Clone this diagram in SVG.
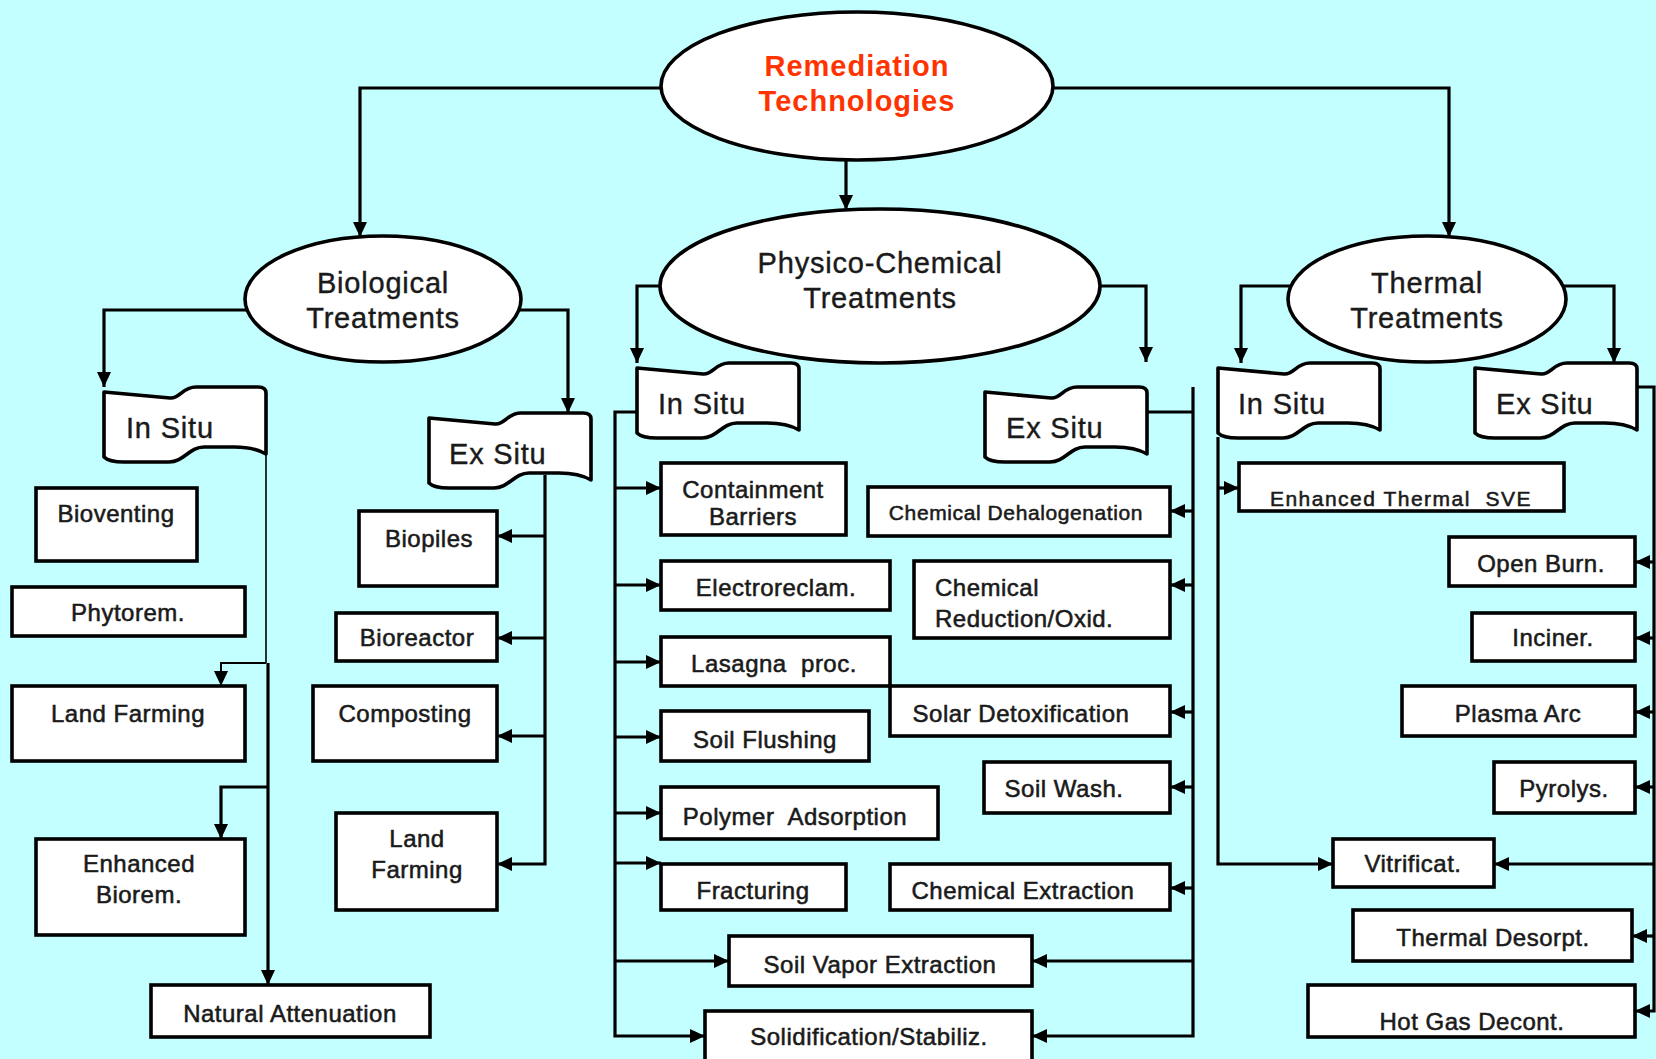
<svg xmlns="http://www.w3.org/2000/svg" xmlns:xlink="http://www.w3.org/1999/xlink" width="1656" height="1059" viewBox="0 0 1656 1059">
<style>
.box{fill:#fff;stroke:#000;stroke-width:3.6}
.ell{fill:#fff;stroke:#000;stroke-width:3.6}
.flag{fill:#fff;stroke:#000;stroke-width:3.6;stroke-linejoin:round}
.t{font-family:"Liberation Sans",Arial,sans-serif;font-size:24px;letter-spacing:0.5px;text-anchor:middle;fill:#1a1a1a;stroke:#1a1a1a;stroke-width:0.55px}
.ts{font-size:21px;letter-spacing:0.6px}
.tw{font-size:21px;letter-spacing:1.5px}
.ls{text-anchor:start}
.big{font-family:"Liberation Sans",Arial,sans-serif;font-size:29px;letter-spacing:0.8px;text-anchor:middle;fill:#1a1a1a;stroke:#1a1a1a;stroke-width:0.4px}
.fl{font-family:"Liberation Sans",Arial,sans-serif;font-size:29px;letter-spacing:0.8px;fill:#1a1a1a;stroke:#1a1a1a;stroke-width:0.4px}
.red{font-weight:bold;fill:#FF3300;stroke:none;letter-spacing:1px}
.c{fill:none;stroke:#000;stroke-width:3.2}
.a{marker-end:url(#arr)}
</style>
<defs>
<marker id="arr" markerUnits="userSpaceOnUse" markerWidth="16" markerHeight="16" refX="15" refY="8" orient="auto">
<path d="M0,1 L15,8 L0,15 Z" fill="#000"/>
</marker>
<path id="flag" d="M0,5 L66,11 C76,12 78,0 92,0 L154,0 Q162,0 162,6 L162,67 Q150,60 130,60 L100,60 C85,60 80,75 65,75 L20,75 Q5,75 0,70 Z"/>
</defs>
<rect width="1656" height="1059" fill="#C4FFFF"/>

<g id="connectors">
<path class="c a" d="M660,88 H360 V237"/>
<path class="c a" d="M1054,88 H1449 V237"/>
<path class="c a" d="M846,160 V210"/>
<path class="c a" d="M246,310 H104 V387"/>
<path class="c a" d="M520,310 H568 V413"/>
<path class="c a" d="M660,286 H637 V363"/>
<path class="c a" d="M1100,286 H1146 V362"/>
<path class="c a" d="M1291,286 H1241 V363"/>
<path class="c a" d="M1563,286 H1614 V363"/>

<path d="M266,450 V663" fill="none" stroke="#000" stroke-width="1.6"/>
<path class="a" d="M266,663 H221 V686" fill="none" stroke="#000" stroke-width="2"/>
<path class="c a" d="M268,663 V985"/>
<path class="c a" d="M268,787 H221 V839"/>

<path class="c a" d="M545,475 V864 H497"/>
<path class="c a" d="M545,536 H497"/>
<path class="c a" d="M545,638 H497"/>
<path class="c a" d="M545,736 H497"/>

<path class="c a" d="M637,412 H615 V1036 H705"/>
<path class="c a" d="M615,488 H661"/>
<path class="c a" d="M615,585 H661"/>
<path class="c a" d="M615,662 H661"/>
<path class="c a" d="M615,737 H661"/>
<path class="c a" d="M615,813 H661"/>
<path class="c a" d="M615,863 H661"/>
<path class="c a" d="M615,961 H729"/>

<path class="c" d="M1147,412 H1193"/>
<path class="c a" d="M1193,387 V1036 H1032"/>
<path class="c a" d="M1193,511 H1170"/>
<path class="c a" d="M1193,585 H1170"/>
<path class="c a" d="M1193,712 H1170"/>
<path class="c a" d="M1193,787 H1170"/>
<path class="c a" d="M1193,888 H1170"/>
<path class="c a" d="M1193,961 H1032"/>

<path class="c a" d="M1218,437 V864 H1333"/>
<path class="c a" d="M1218,488 H1239"/>

<path class="c a" d="M1637,387 H1654 V1011 H1635"/>
<path class="c a" d="M1654,562 H1635"/>
<path class="c a" d="M1654,638 H1635"/>
<path class="c a" d="M1654,712 H1635"/>
<path class="c a" d="M1654,787 H1635"/>
<path class="c a" d="M1654,864 H1494"/>
<path class="c a" d="M1654,936 H1632"/>
</g>

<g id="remediation">
<ellipse class="ell" cx="857" cy="86" rx="196" ry="74"/>
<text class="big red" x="857" y="76">Remediation</text>
<text class="big red" x="857" y="111">Technologies</text>
</g>
<g id="biological">
<ellipse class="ell" cx="383" cy="299" rx="138" ry="63"/>
<text class="big" x="383" y="293">Biological</text>
<text class="big" x="383" y="328">Treatments</text>
</g>
<g id="physico">
<ellipse class="ell" cx="880" cy="286" rx="220" ry="77"/>
<text class="big" x="880" y="273">Physico-Chemical</text>
<text class="big" x="880" y="308">Treatments</text>
</g>
<g id="thermal">
<ellipse class="ell" cx="1427" cy="299" rx="139" ry="63"/>
<text class="big" x="1427" y="293">Thermal</text>
<text class="big" x="1427" y="328">Treatments</text>
</g>

<g id="bio-insitu" transform="translate(104,387)"><use xlink:href="#flag" class="flag"/><text class="fl" x="22" y="51">In Situ</text></g>
<g id="bio-exsitu" transform="translate(429,413)"><use xlink:href="#flag" class="flag"/><text class="fl" x="20" y="51">Ex Situ</text></g>
<g id="phys-insitu" transform="translate(637,363)"><use xlink:href="#flag" class="flag"/><text class="fl" x="21" y="51">In Situ</text></g>
<g id="phys-exsitu" transform="translate(985,387)"><use xlink:href="#flag" class="flag"/><text class="fl" x="21" y="51">Ex Situ</text></g>
<g id="therm-insitu" transform="translate(1218,363)"><use xlink:href="#flag" class="flag"/><text class="fl" x="20" y="51">In Situ</text></g>
<g id="therm-exsitu" transform="translate(1475,363)"><use xlink:href="#flag" class="flag"/><text class="fl" x="21" y="51">Ex Situ</text></g>

<g id="bioventing"><rect class="box" x="36" y="488" width="161" height="73"/><text class="t" x="116" y="522">Bioventing</text></g>
<g id="phytorem"><rect class="box" x="12" y="587" width="233" height="49"/><text class="t" x="128" y="621">Phytorem.</text></g>
<g id="landfarming-in"><rect class="box" x="12" y="686" width="233" height="75"/><text class="t" x="128" y="722">Land Farming</text></g>
<g id="enhanced-biorem"><rect class="box" x="36" y="839" width="209" height="96"/><text class="t" x="139" y="872">Enhanced</text><text class="t" x="139" y="903">Biorem.</text></g>
<g id="natural-attenuation"><rect class="box" x="151" y="985" width="279" height="52"/><text class="t" x="290" y="1022">Natural Attenuation</text></g>

<g id="biopiles"><rect class="box" x="359" y="511" width="138" height="75"/><text class="t" x="429" y="547">Biopiles</text></g>
<g id="bioreactor"><rect class="box" x="336" y="613" width="161" height="48"/><text class="t" x="417" y="646">Bioreactor</text></g>
<g id="composting"><rect class="box" x="313" y="686" width="184" height="75"/><text class="t" x="405" y="722">Composting</text></g>
<g id="landfarming-ex"><rect class="box" x="336" y="813" width="161" height="97"/><text class="t" x="417" y="847">Land</text><text class="t" x="417" y="878">Farming</text></g>

<g id="containment"><rect class="box" x="661" y="463" width="185" height="72"/><text class="t" x="753" y="498">Containment</text><text class="t" x="753" y="525">Barriers</text></g>
<g id="electroreclam"><rect class="box" x="661" y="561" width="229" height="49"/><text class="t" x="776" y="596">Electroreclam.</text></g>
<g id="lasagna"><rect class="box" x="661" y="637" width="229" height="49"/><text class="t" x="774" y="672" xml:space="preserve">Lasagna  proc.</text></g>
<g id="soil-flushing"><rect class="box" x="661" y="711" width="208" height="50"/><text class="t" x="765" y="748">Soil Flushing</text></g>
<g id="polymer"><rect class="box" x="661" y="787" width="277" height="52"/><text class="t" x="795" y="825" xml:space="preserve">Polymer  Adsorption</text></g>
<g id="fracturing"><rect class="box" x="661" y="864" width="185" height="46"/><text class="t" x="753" y="899">Fracturing</text></g>
<g id="sve"><rect class="box" x="729" y="936" width="303" height="50"/><text class="t" x="880" y="973">Soil Vapor Extraction</text></g>
<g id="solidification"><rect class="box" x="705" y="1011" width="327" height="55"/><text class="t" x="869" y="1045">Solidification/Stabiliz.</text></g>

<g id="dehalogenation"><rect class="box" x="868" y="487" width="302" height="49"/><text class="t ts" x="1016" y="520">Chemical Dehalogenation</text></g>
<g id="reduction"><rect class="box" x="914" y="561" width="256" height="77"/><text class="t ls" x="935" y="596">Chemical</text><text class="t ls" x="935" y="627">Reduction/Oxid.</text></g>
<g id="solar"><rect class="box" x="890" y="686" width="280" height="50"/><text class="t" x="1021" y="722">Solar Detoxification</text></g>
<g id="soil-wash"><rect class="box" x="984" y="762" width="186" height="51"/><text class="t" x="1064" y="797">Soil Wash.</text></g>
<g id="chem-extraction"><rect class="box" x="890" y="864" width="280" height="46"/><text class="t" x="1023" y="899">Chemical Extraction</text></g>

<g id="thermal-sve"><rect class="box" x="1239" y="463" width="325" height="48"/><text class="t tw" x="1401" y="506" xml:space="preserve">Enhanced Thermal  SVE</text></g>
<g id="vitrificat"><rect class="box" x="1333" y="839" width="161" height="48"/><text class="t" x="1413" y="872">Vitrificat.</text></g>

<g id="open-burn"><rect class="box" x="1449" y="537" width="186" height="49"/><text class="t" x="1541" y="572">Open Burn.</text></g>
<g id="inciner"><rect class="box" x="1472" y="613" width="163" height="48"/><text class="t" x="1553" y="646">Inciner.</text></g>
<g id="plasma"><rect class="box" x="1402" y="686" width="233" height="50"/><text class="t" x="1518" y="722">Plasma Arc</text></g>
<g id="pyrolys"><rect class="box" x="1494" y="762" width="141" height="51"/><text class="t" x="1564" y="797">Pyrolys.</text></g>
<g id="desorpt"><rect class="box" x="1353" y="910" width="279" height="51"/><text class="t" x="1493" y="946">Thermal Desorpt.</text></g>
<g id="hotgas"><rect class="box" x="1308" y="985" width="327" height="52"/><text class="t" x="1472" y="1030">Hot Gas Decont.</text></g>
</svg>
